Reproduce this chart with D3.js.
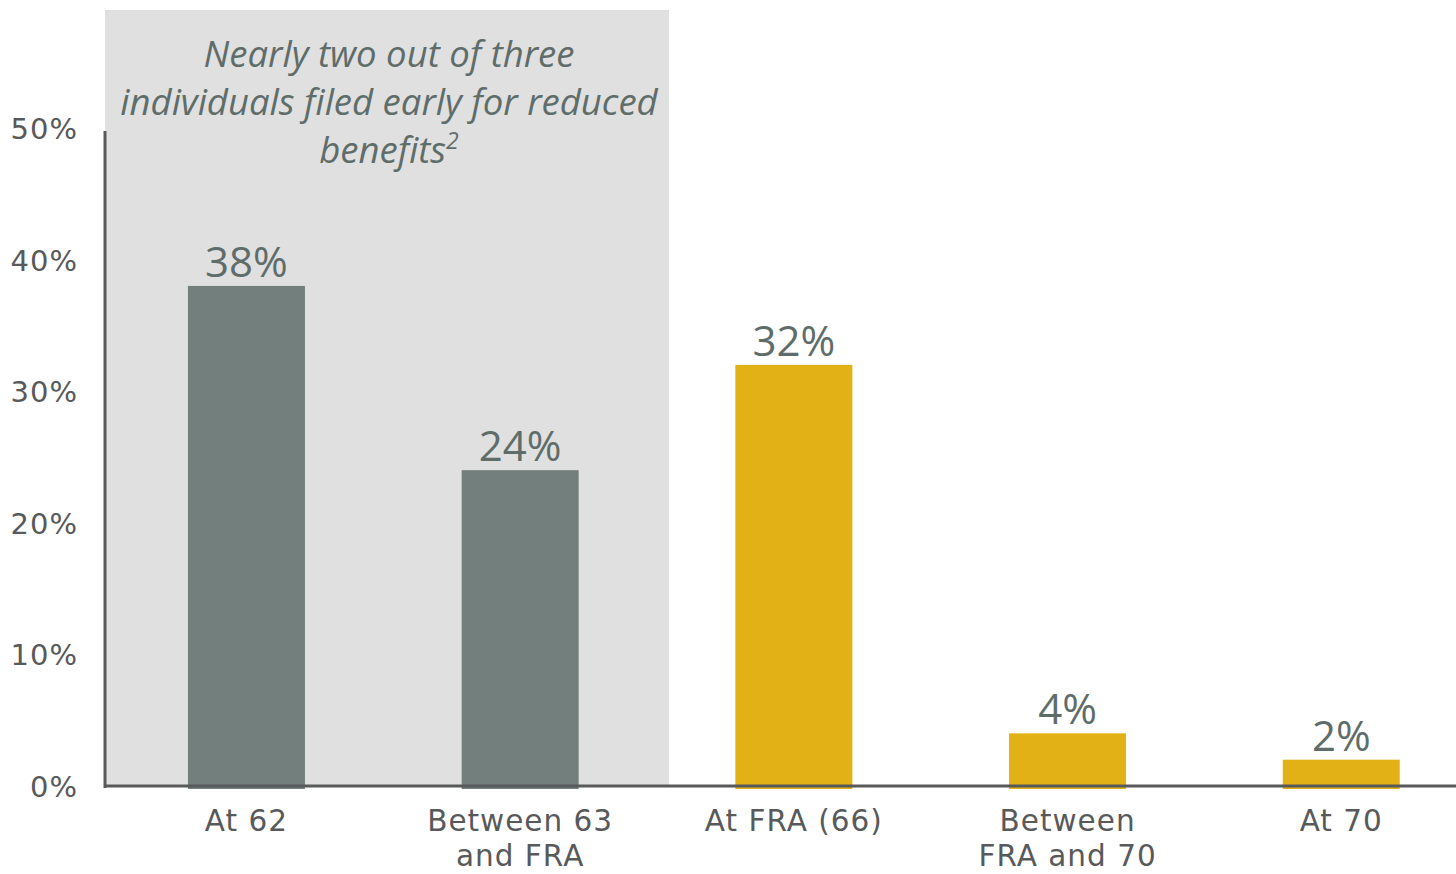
<!DOCTYPE html>
<html>
<head>
<meta charset="utf-8">
<script src="https://cdn.jsdelivr.net/npm/d3@7"></script>
<style>
  html, body { margin: 0; padding: 0; background: #ffffff; }
  svg { display: block; }
</style>
</head>
<body>
<svg id="chart" width="1456" height="874"></svg>
<script>
// Age at which individuals filed for Social Security benefits
const categories = ["At 62", "Between 63\nand FRA", "At FRA (66)", "Between\nFRA and 70", "At 70"];
const shares = [38, 24, 32, 4, 2];
const valueLabels = ["38%", "24%", "32%", "4%", "2%"];
const earlyFiling = [true, true, false, false, false];
const yTicks = [0, 10, 20, 30, 40, 50];
const calloutLines = ["Nearly two out of three", "individuals filed early for reduced", "benefits"];

const svg = d3.select("#chart");

const axisColor = "#58595b";
const grayBar = "#737f7d";
const goldBar = "#e2b116";
const labelColor = "#5f6d6a";
const sansFont = "'DejaVu Sans', sans-serif";
const calloutFont = "'Open Sans', 'Noto Sans', sans-serif";

const y = d3.scaleLinear().domain([0, 50]).range([786, 128]);
const x = d3.scaleBand()
  .domain(categories)
  .range([109.6, 1478.1])
  .paddingInner(0.5725)
  .paddingOuter(0.28625);

// Shaded region highlighting early filers
svg.append("rect")
  .attr("x", 105).attr("y", 10)
  .attr("width", 564).attr("height", 776)
  .attr("fill", "#e0e0e0");

// Callout text
const callout = svg.append("text")
  .attr("text-anchor", "middle")
  .attr("font-family", calloutFont)
  .attr("font-style", "italic")
  .attr("font-size", 36.5)
  .attr("fill", labelColor);
calloutLines.forEach((line, i) => {
  const t = callout.append("tspan")
    .attr("x", 389)
    .attr("y", 67 + i * 48)
    .text(line);
  if (i === calloutLines.length - 1) {
    t.append("tspan").attr("font-size", 23).attr("dy", -14).text("2");
  }
});

// Bars
svg.append("g").selectAll("rect")
  .data(categories)
  .join("rect")
  .attr("x", d => x(d))
  .attr("y", (d, i) => y(shares[i]))
  .attr("width", x.bandwidth())
  .attr("height", (d, i) => y(0) - y(shares[i]) + 3)
  .attr("fill", (d, i) => earlyFiling[i] ? grayBar : goldBar);

// Value labels
svg.append("g").selectAll("text")
  .data(categories)
  .join("text")
  .attr("x", d => x(d) + x.bandwidth() / 2)
  .attr("y", (d, i) => y(shares[i]) - 9)
  .attr("text-anchor", "middle")
  .attr("font-family", calloutFont)
  .attr("font-size", 42)
  .attr("fill", labelColor)
  .text((d, i) => valueLabels[i]);

// Y axis
const yAxis = svg.append("g")
  .attr("transform", "translate(105,0)")
  .call(d3.axisLeft(y).tickValues(yTicks).tickSize(0).tickPadding(27).tickFormat(d => d + "%"));
yAxis.select(".domain").attr("stroke", axisColor).attr("stroke-width", 3)
  .attr("d", `M0,${y(50) + 3}V${y(0) + 2}`);
yAxis.selectAll(".tick text")
  .attr("font-family", sansFont)
  .attr("font-size", 29)
  .attr("letter-spacing", 1)
  .attr("fill", axisColor)
  .attr("dy", "0.36em");

// Baseline
svg.append("line")
  .attr("x1", 104).attr("x2", 1456)
  .attr("y1", y(0)).attr("y2", y(0))
  .attr("stroke", axisColor).attr("stroke-width", 3);

// Category labels
const xLabels = svg.append("g").selectAll("text")
  .data(categories)
  .join("text")
  .attr("text-anchor", "middle")
  .attr("font-family", sansFont)
  .attr("font-size", 29.5)
  .attr("letter-spacing", 1)
  .attr("fill", axisColor);
xLabels.each(function(d) {
  const cx = x(d) + x.bandwidth() / 2;
  d.split("\n").forEach((line, i) => {
    d3.select(this).append("tspan")
      .attr("x", cx)
      .attr("y", 831 + i * 35)
      .text(line);
  });
});
</script>
</body>
</html>
